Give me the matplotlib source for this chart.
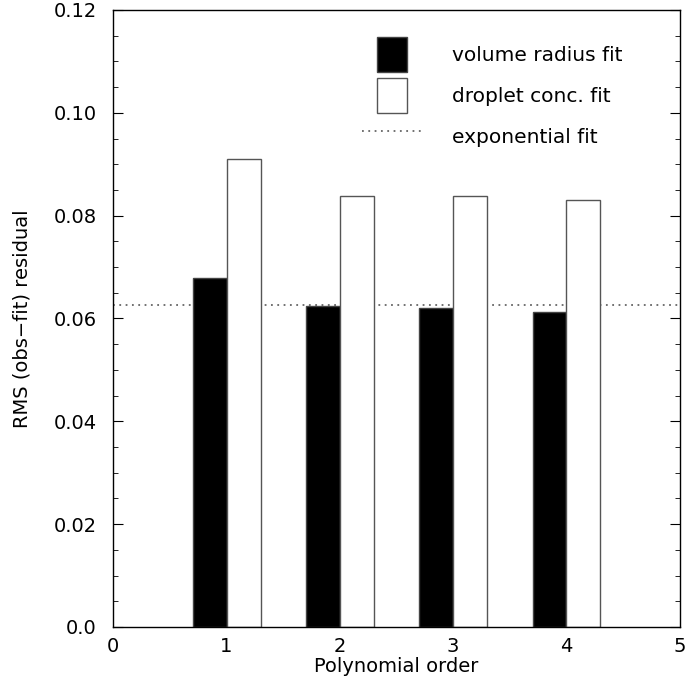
import matplotlib
matplotlib.use("Agg")
import matplotlib.pyplot as plt
from matplotlib.ticker import MultipleLocator, FuncFormatter
from matplotlib.legend_handler import HandlerLine2D
import numpy as np

# data
orders = [1, 2, 3, 4]
volume_radius = [0.0678, 0.0625, 0.0621, 0.0612]
droplet_conc = [0.0910, 0.0839, 0.0839, 0.0830]
exponential = 0.0627

plt.rcParams['font.family'] = ['DejaVu Sans']
plt.rcParams['font.size'] = 14


class WideLine(HandlerLine2D):
    # stretch the legend line so it is longer than the patches
    def create_artists(self, legend, orig, xdescent, ydescent, width, height, fontsize, trans):
        return super().create_artists(legend, orig, xdescent + width * 0.5, ydescent,
                                      width * 2.1, height, fontsize, trans)


fig = plt.figure(figsize=(6.86, 6.89), dpi=100)
ax = fig.add_axes([0.165, 0.09, 0.826, 0.8955])

x = np.array(orders)
w = 0.3
ax.bar(x - w / 2, volume_radius, width=w, color='black', edgecolor='#444444',
       linewidth=1, label='volume radius fit', zorder=2)
ax.bar(x + w / 2, droplet_conc, width=w, color='white', edgecolor='#555555',
       linewidth=1, label='droplet conc. fit', zorder=2)
ax.axhline(exponential, color='#666666', linestyle=(0, (1, 2.5)), linewidth=1.3,
           label='exponential fit', zorder=1)

ax.set_xlim(0, 5)
ax.set_ylim(0, 0.12)
ax.xaxis.set_major_locator(MultipleLocator(1))
ax.yaxis.set_major_locator(MultipleLocator(0.02))
ax.yaxis.set_minor_locator(MultipleLocator(0.005))
ax.yaxis.set_major_formatter(FuncFormatter(lambda v, p: '0.0' if abs(v) < 1e-9 else f'{v:.2f}'))
ax.tick_params(axis='y', which='both', direction='in', left=True, right=True, labelsize=14, pad=12)
ax.tick_params(axis='y', which='major', length=7)
ax.tick_params(axis='y', which='minor', length=3.5)
ax.tick_params(axis='x', which='both', length=0, labelsize=14, pad=7)
for s in ax.spines.values():
    s.set_linewidth(1)

ax.set_xlabel('Polynomial order', fontsize=14, labelpad=1)
ax.set_ylabel('RMS (obs\u2212fit) residual', fontsize=14, labelpad=16)

handles, labels = ax.get_legend_handles_labels()
order = [1, 2, 0]
ax.legend([handles[i] for i in order], [labels[i] for i in order],
          loc='upper right', bbox_to_anchor=(0.93, 0.985), frameon=False,
          handlelength=1.5, handleheight=2.3, handletextpad=2.2, labelspacing=0.3,
          fontsize=14.5, handler_map={handles[0]: WideLine()})

fig.savefig('out.png', dpi=100)
